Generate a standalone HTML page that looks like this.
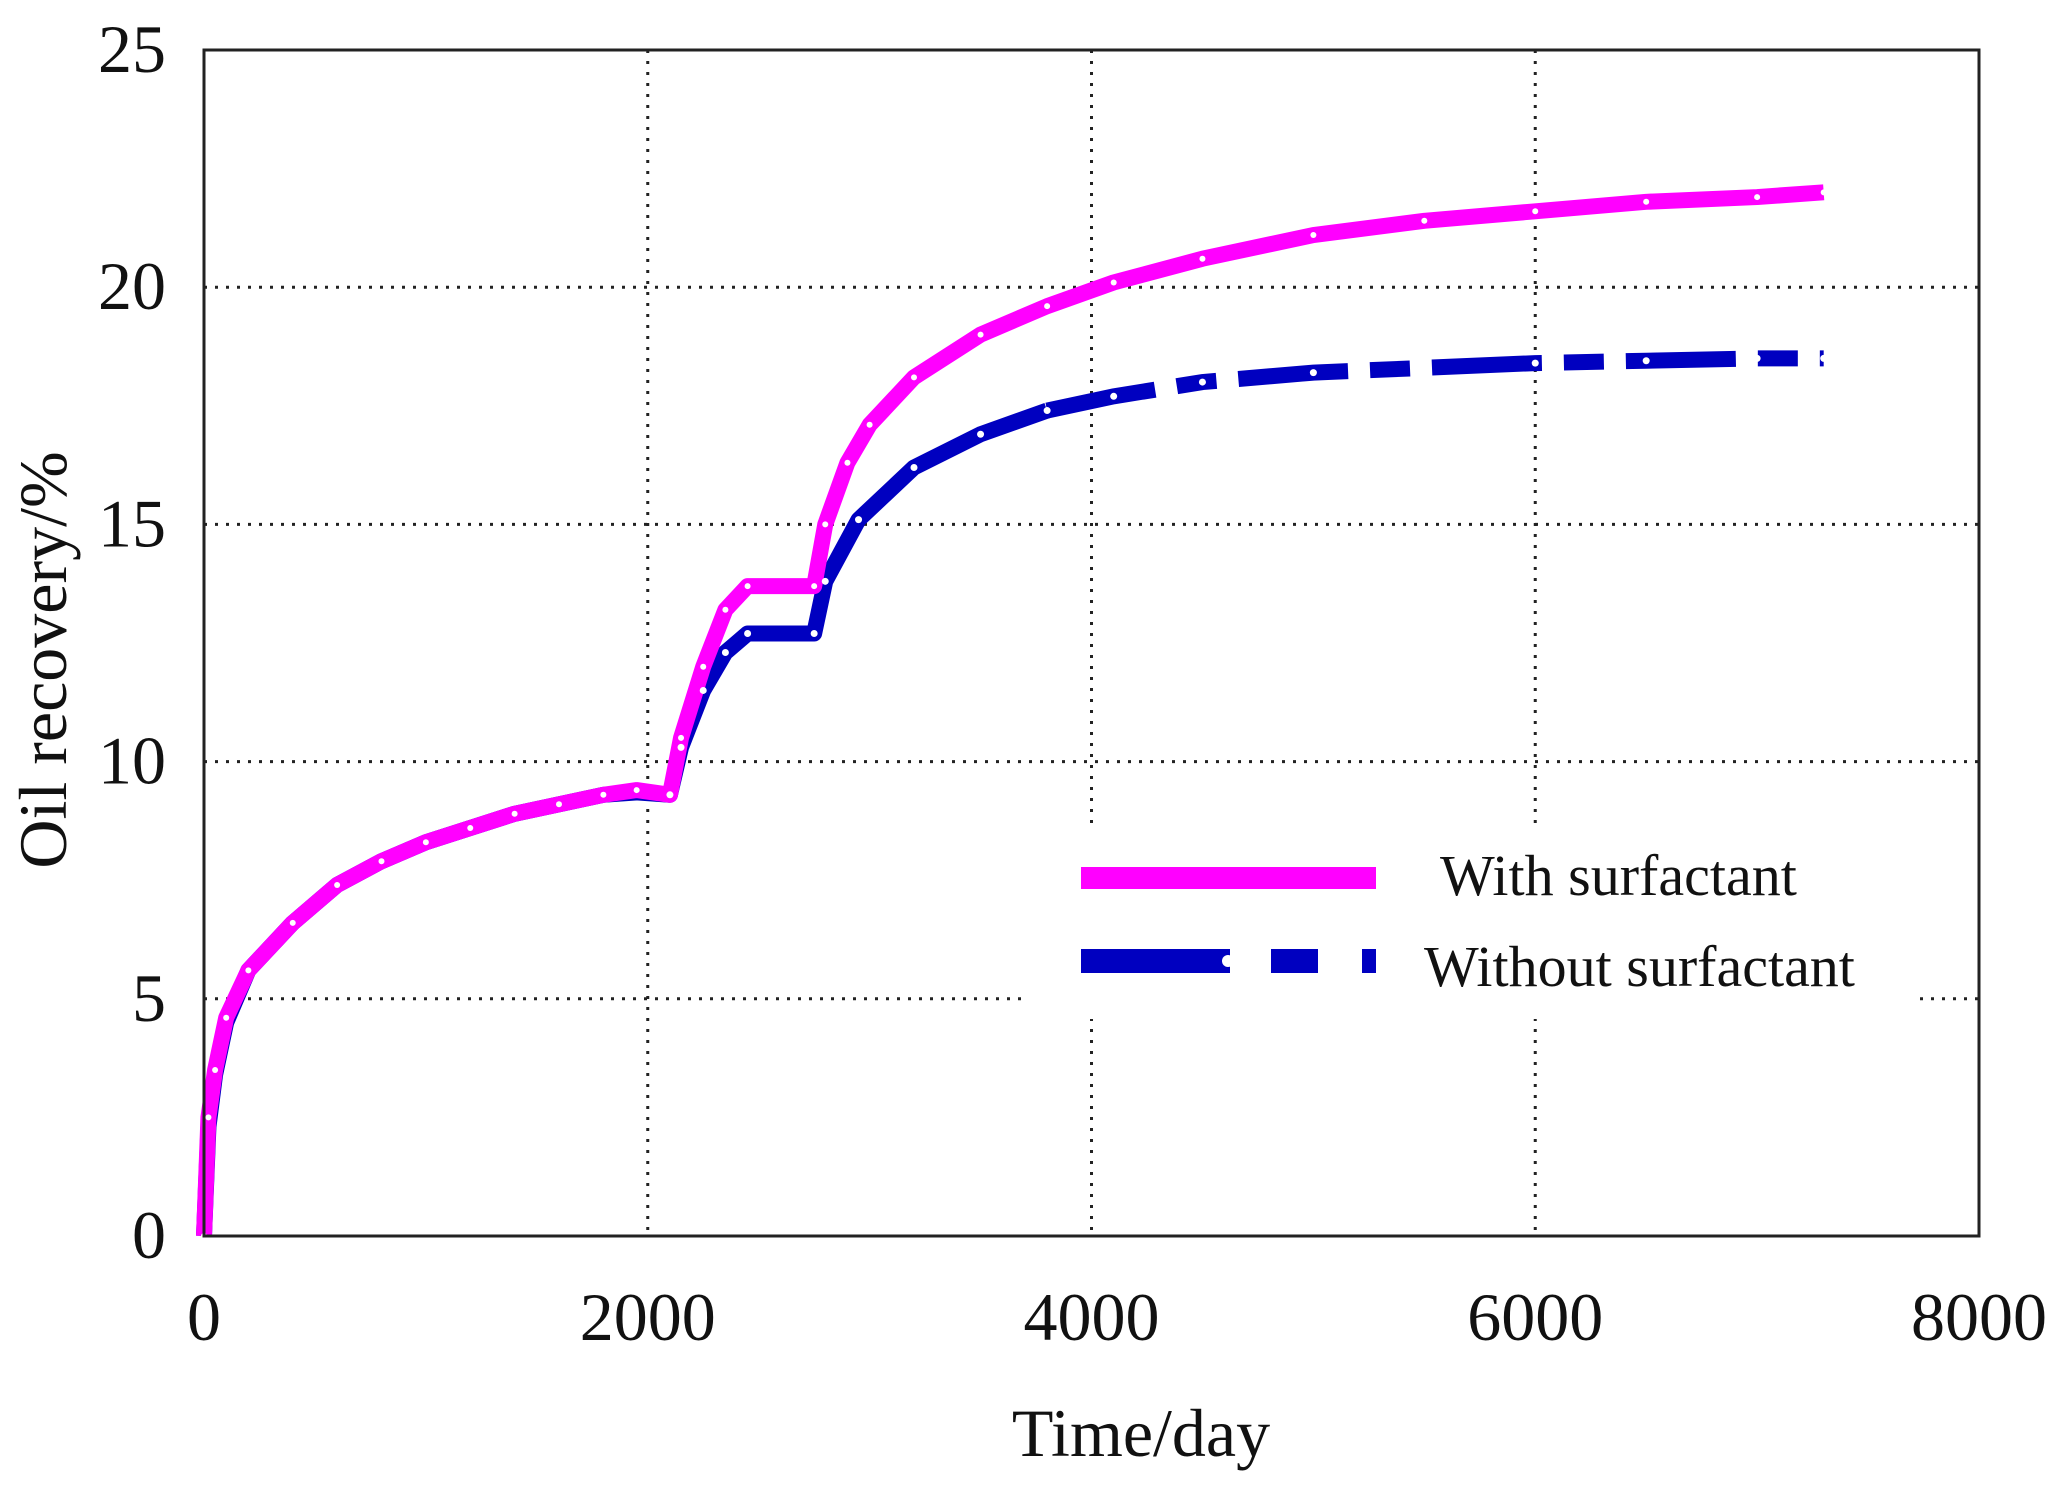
<!DOCTYPE html>
<html><head><meta charset="utf-8"><style>
html,body{margin:0;padding:0;background:#fff;}
svg{display:block;font-family:"Liberation Serif",serif;}
</style></head><body>
<svg id="chart" width="2062" height="1486" viewBox="0 0 2062 1486" xmlns="http://www.w3.org/2000/svg">
<rect width="2062" height="1486" fill="#fff"/>
<g id="grid"></g>
<rect x="1026" y="828" width="887" height="191" fill="#fff"/>
<g id="series"></g>
<rect x="204" y="50" width="1775" height="1186" fill="none" stroke="#222" stroke-width="3"/>
<g id="ticks" font-size="68" fill="#111"></g>
<text x="1141" y="1456" font-size="68" text-anchor="middle" fill="#111">Time/day</text>
<text transform="translate(66,660) rotate(-90)" font-size="68" text-anchor="middle" fill="#111">Oil recovery/%</text>
<g>
<line x1="1081" y1="878" x2="1376" y2="878" stroke="#ff00ff" stroke-width="22"/>
<text x="1440" y="895" font-size="58" fill="#111">With surfactant</text>
<line x1="1081" y1="961" x2="1230" y2="961" stroke="#0000c0" stroke-width="24"/>
<circle cx="1228" cy="961" r="6" fill="#fff"/>
<line x1="1271" y1="961" x2="1318" y2="961" stroke="#0000c0" stroke-width="24"/>
<line x1="1362" y1="961" x2="1376" y2="961" stroke="#0000c0" stroke-width="24"/>
<text x="1424" y="986" font-size="58" fill="#111">Without  surfactant</text>
</g>
</svg>
<script>
const xTicks=[0,2000,4000,6000,8000];
const yTicks=[0,5,10,15,20,25];
const withT=[0,20,50,100,200,400,600,800,1000,1200,1400,1600,1800,1950,2100,2150,2250,2350,2450,2750,2800,2900,3000,3200,3500,3800,4100,4500,5000,5500,6000,6500,7000,7300];
const withV=[0,2.5,3.5,4.6,5.6,6.6,7.4,7.9,8.3,8.6,8.9,9.1,9.3,9.4,9.3,10.5,12,13.2,13.7,13.7,15,16.3,17.1,18.1,19,19.6,20.1,20.6,21.1,21.4,21.6,21.8,21.9,22.0];
const woT=[0,20,50,100,200,400,600,800,1000,1200,1400,1600,1800,1950,2100,2150,2250,2350,2450,2750,2800,2950,3200,3500,3800,4100,4500,5000,5500,6000,6500,7000,7300];
const woV=[0,2.3,3.4,4.5,5.6,6.6,7.4,7.9,8.3,8.6,8.9,9.1,9.3,9.35,9.3,10.3,11.5,12.3,12.7,12.7,13.8,15.1,16.2,16.9,17.4,17.7,18.0,18.2,18.3,18.4,18.45,18.5,18.5];
const X=v=>204+v/8000*1775, Y=v=>1236-v/25*1186;
const NS='http://www.w3.org/2000/svg';
function mk(t,a,p){const e=document.createElementNS(NS,t);for(const k in a)e.setAttribute(k,a[k]);p.appendChild(e);return e;}
const grid=document.getElementById('grid'),ticks=document.getElementById('ticks'),series=document.getElementById('series');
xTicks.forEach(t=>{
 if(t>0&&t<8000){const l=mk('line',{x1:X(t),x2:X(t),y1:50,y2:1236,stroke:'#222','stroke-width':3,'stroke-dasharray':'3 8'},grid);
 
 }
 const tx=mk('text',{x:X(t),y:1340,'text-anchor':'middle'},ticks);tx.textContent=t;
 
 
});
yTicks.forEach(t=>{
 if(t>0&&t<25){const l=mk('line',{x1:204,x2:1979,y1:Y(t),y2:Y(t),stroke:'#222','stroke-width':3,'stroke-dasharray':'3 8'},grid);
 
 }
 const tx=mk('text',{x:166,y:Y(t)+22,'text-anchor':'end'},ticks);tx.textContent=t;
 
 
});
function pts(T,V,f){return T.map((t,i)=>[t,V[i]]).filter(p=>f(p[0])).map(p=>X(p[0])+','+Y(p[1])).join(' ');}
const s1=mk('polyline',{points:pts(woT,woV,t=>t<=3800),fill:'none',stroke:'#0000c0','stroke-width':16,'stroke-linejoin':'round'},series);


const s2=mk('polyline',{points:pts(woT,woV,t=>t>=3800),fill:'none',stroke:'#0000c0','stroke-width':16,'stroke-dasharray':'110 22 40 22'},series);


const s3=mk('polyline',{points:pts(withT,withV,()=>true),fill:'none',stroke:'#ff00ff','stroke-width':16,'stroke-linejoin':'round'},series);


withT.forEach((t,i)=>{const c=mk('circle',{cx:X(t),cy:Y(withV[i]),r:3,fill:'#fff'},series);
 
 });
woT.forEach((t,i)=>{if(t<2100)return;const c=mk('circle',{cx:X(t),cy:Y(woV[i]),r:3.5,fill:'#fff'},series);
 
 });
</script>
</body></html>
